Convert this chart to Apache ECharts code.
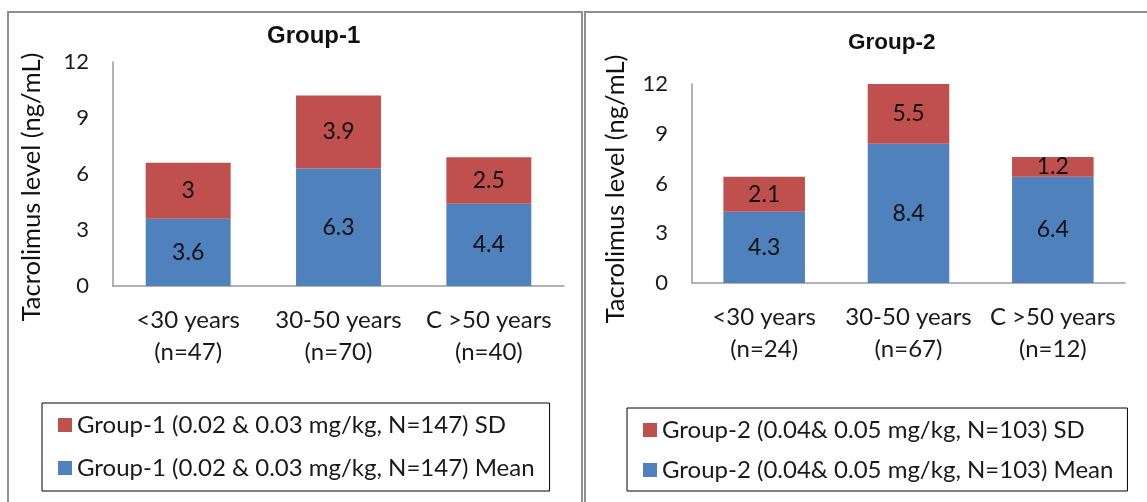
<!DOCTYPE html>
<html>
<head>
<meta charset="utf-8">
<script src="https://cdn.jsdelivr.net/npm/echarts@6/dist/echarts.min.js"></script>
<style>
html,body{margin:0;padding:0;background:#fff;}
#chart{width:1147px;height:502px;}
</style>
</head>
<body>
<div id="chart"></div>
<script>
// ---- data ----
const categories1 = ['<30 years\n(n=47)', '30-50 years\n(n=70)', 'C >50 years\n(n=40)'];
const mean1 = [3.6, 6.3, 4.4];
const sd1 = [3, 3.9, 2.5];
const categories2 = ['<30 years\n(n=24)', '30-50 years\n(n=67)', 'C >50 years\n(n=12)'];
const mean2 = [4.3, 8.4, 6.4];
const sd2 = [2.1, 5.5, 1.2];
const yTicks = [0, 3, 6, 9, 12];
const titles = ['Group-1', 'Group-2'];
const yName = 'Tacrolimus level (ng/mL)';
const meanName1 = 'Group-1 (0.02 & 0.03 mg/kg, N=147) Mean';
const sdName1 = 'Group-1 (0.02 & 0.03 mg/kg, N=147) SD';
const meanName2 = 'Group-2 (0.04& 0.05 mg/kg, N=103) Mean';
const sdName2 = 'Group-2 (0.04& 0.05 mg/kg, N=103) SD';

const FONT = 'Lato';
const BLUE = '#4F81BD';
const RED = '#C0504D';
const AXIS = '#9a9a9a';
const BORDER = '#8f8f8f';
const TXT = '#1a1a1a';

function xAxisCfg(gi, cats) {
  return {
    type: 'category', gridIndex: gi, data: cats,
    axisTick: { show: false },
    axisLine: { lineStyle: { color: AXIS, width: 1.5 } },
    axisLabel: { fontFamily: FONT, fontSize: 24, color: TXT, lineHeight: 32, margin: 18, interval: 0 }
  };
}
function yAxisCfg(gi, gap, pad) {
  return {
    type: 'value', gridIndex: gi,
    min: yTicks[0], max: yTicks[yTicks.length - 1], interval: yTicks[1] - yTicks[0],
    splitLine: { show: false },
    axisTick: { show: false },
    axisLine: { show: true, lineStyle: { color: AXIS, width: 1.5 } },
    axisLabel: { fontFamily: FONT, fontSize: 22, color: TXT, margin: 24 },
    name: yName, nameLocation: 'middle', nameGap: gap, nameRotate: 90,
    nameTextStyle: { fontFamily: FONT, fontSize: 25.5, color: '#111', padding: pad }
  };
}
const lbl = { show: true, position: 'inside', fontFamily: FONT, fontSize: 23, color: '#111' };
function barSeries(name, data, color, gi, stack) {
  return {
    type: 'bar', name: name, data: data, stack: stack,
    xAxisIndex: gi, yAxisIndex: gi,
    barCategoryGap: '43.5%', clip: true,
    itemStyle: { color: color },
    label: lbl
  };
}
function legendCfg(items, left, top, pad, gap) {
  return {
    data: items, orient: 'vertical', left: left, top: top,
    padding: pad, itemGap: gap, itemWidth: 14, itemHeight: 14, icon: 'rect',
    borderColor: '#000', borderWidth: 1, borderRadius: 0,
    selectedMode: false,
    textStyle: { fontFamily: FONT, fontSize: 24, color: TXT }
  };
}

const option = {
  animation: false,
  backgroundColor: '#fff',
  title: [
    { text: titles[0], left: 267, top: 24, padding: 0,
      textStyle: { fontFamily: 'Liberation Sans', fontWeight: 'bold', fontSize: 24, color: '#111' } },
    { text: titles[1], left: 848, top: 31, padding: 0,
      textStyle: { fontFamily: 'Liberation Sans', fontWeight: 'bold', fontSize: 22.5, color: '#111' } }
  ],
  grid: [
    { left: 113, top: 62, width: 451, height: 224 },
    { left: 692, top: 84, width: 433, height: 199 }
  ],
  xAxis: [xAxisCfg(0, categories1), xAxisCfg(1, categories2)],
  yAxis: [yAxisCfg(0, 68, [0, 26, 0, 0]), yAxisCfg(1, 63, [0, 11, 0, 0])],
  legend: [
    legendCfg([sdName1, meanName1], 42, 403, [10, 15, 11, 16], 19),
    legendCfg([sdName2, meanName2], 627, 408, [10, 14, 9, 16], 16)
  ],
  series: [
    barSeries(meanName1, mean1, BLUE, 0, 'g1'),
    barSeries(sdName1, sd1, RED, 0, 'g1'),
    barSeries(meanName2, mean2, BLUE, 1, 'g2'),
    barSeries(sdName2, sd2, RED, 1, 'g2')
  ],
  graphic: [
    { type: 'rect', silent: true, shape: { x: 8, y: 12, width: 574, height: 520 },
      style: { fill: null, stroke: BORDER, lineWidth: 2 } },
    { type: 'rect', silent: true, shape: { x: 585, y: 12, width: 600, height: 520 },
      style: { fill: null, stroke: BORDER, lineWidth: 2 } }
  ]
};

const chart = echarts.init(document.getElementById('chart'), null, { renderer: 'canvas' });
chart.setOption(option);
</script>
</body>
</html>
